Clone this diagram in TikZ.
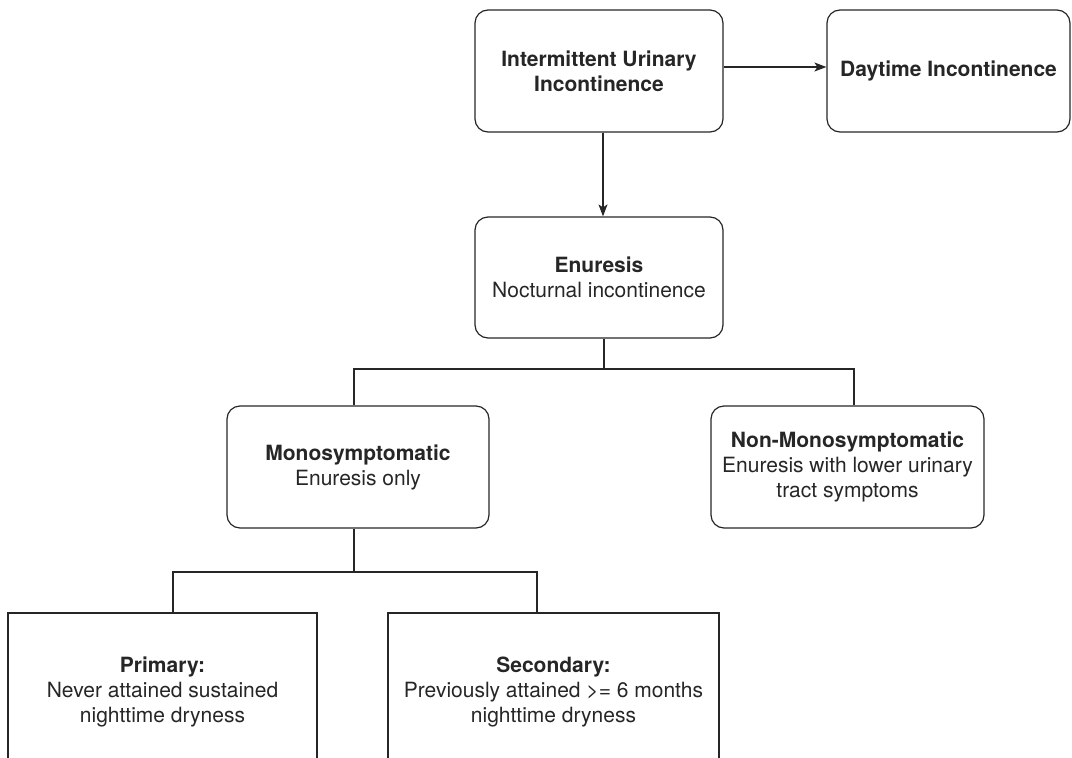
\documentclass[tikz,border=0pt]{standalone}
\usepackage{fontspec}
\setmainfont{TeX Gyre Heros}
\usetikzlibrary{arrows.meta}
\definecolor{ink}{HTML}{262626}
\tikzset{
  box/.style={draw=ink, line width=1.2pt, rounded corners=13pt, align=center,
    text=ink, inner sep=2pt, font=\fontsize{21}{25}\selectfont},
  sqbox/.style={box, rounded corners=0pt},
  conn/.style={draw=ink, line width=1.2pt},
  arr/.style={conn, -{Stealth[length=12pt,width=9pt,inset=3pt]}}
}
\begin{document}
\begin{tikzpicture}[x=1pt,y=-1pt]
\useasboundingbox (0,0) rectangle (1072,758);
\clip (0,0) rectangle (1072,758);
\node[box, minimum width=248pt, minimum height=122pt] (iui) at (599,71)
  {\textbf{Intermittent Urinary}\\\textbf{Incontinence}};
\node[box, minimum width=243pt, minimum height=122pt] (day) at (948.5,71)
  {\textbf{Daytime Incontinence}};
\node[box, minimum width=248pt, minimum height=121pt] (enu) at (599,277.5)
  {\textbf{Enuresis}\\Nocturnal incontinence};
\node[box, minimum width=262pt, minimum height=122pt] (mono) at (358,467)
  {\textbf{Monosymptomatic}\\Enuresis only};
\node[box, minimum width=273pt, minimum height=122pt] (non) at (847.5,467)
  {\textbf{Non-Monosymptomatic}\\Enuresis with lower urinary\\tract symptoms};
\node[sqbox, minimum width=309pt, minimum height=158pt] (prim) at (162.5,692)
  {\textbf{Primary:}\\Never attained sustained\\nighttime dryness};
\node[sqbox, minimum width=331pt, minimum height=158pt] (sec) at (553.5,692)
  {\textbf{Secondary:}\\Previously attained >= 6 months\\nighttime dryness};
% helper coordinates
\coordinate (a1) at (0,67);
\coordinate (v1) at (603,0);
\coordinate (v2) at (604,0);
\coordinate (h1) at (0,369);
\coordinate (m1) at (354,0);
\coordinate (n1) at (854,0);
\coordinate (h2) at (0,572);
\coordinate (p1) at (173,0);
\coordinate (s1) at (537,0);
% connectors
\draw[arr] (iui.east |- a1) -- (day.west |- a1);
\draw[arr] (iui.south -| v1) -- (enu.north -| v1);
\draw[conn] (enu.south -| v2) -- (h1 -| v2);
\draw[conn] (mono.north -| m1) -- (h1 -| m1) -- (h1 -| n1) -- (non.north -| n1);
\draw[conn] (mono.south -| m1) -- (h2 -| m1);
\draw[conn] (prim.north -| p1) -- (h2 -| p1) -- (h2 -| s1) -- (sec.north -| s1);
\end{tikzpicture}
\end{document}
